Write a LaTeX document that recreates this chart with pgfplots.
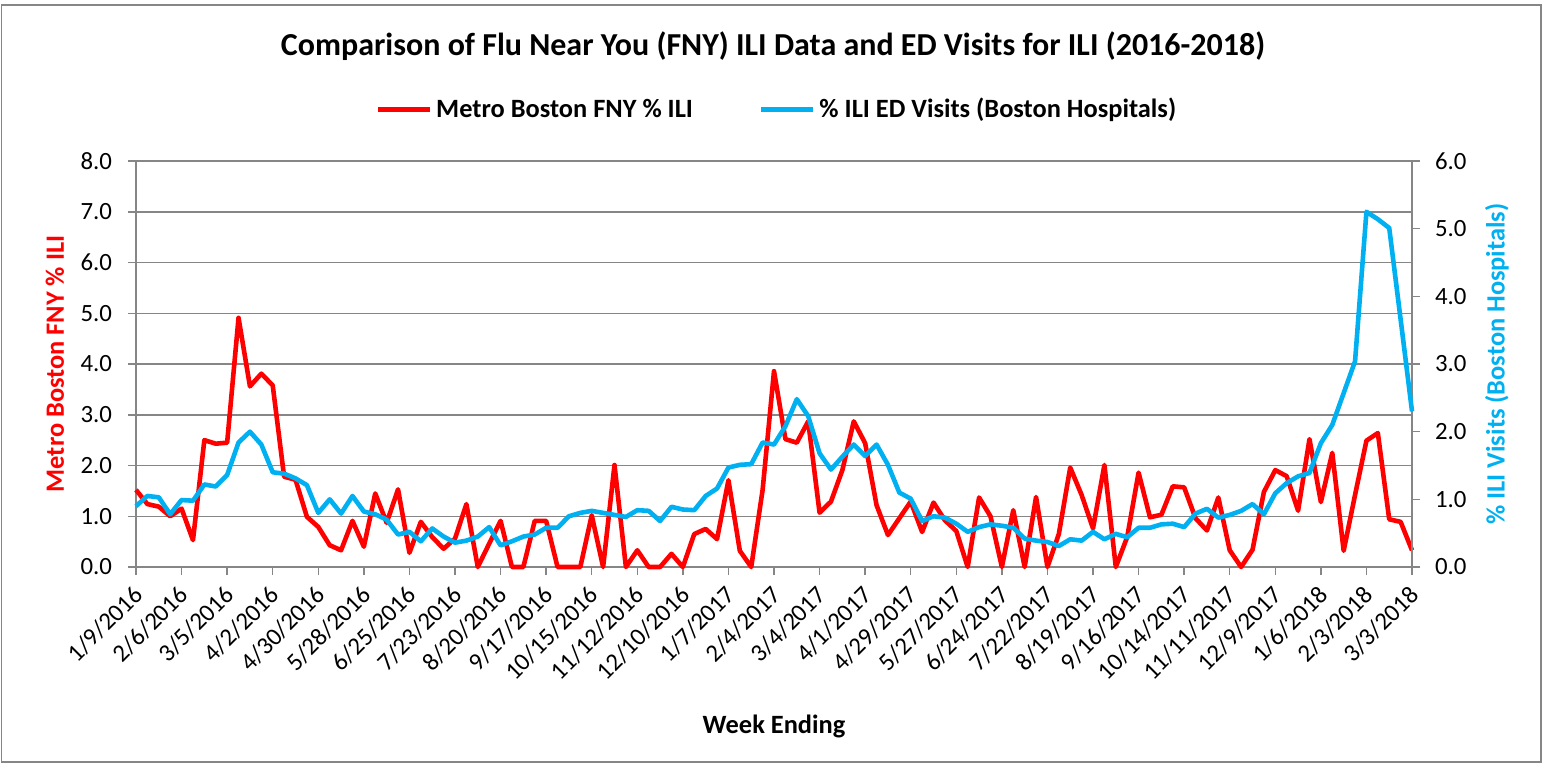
\documentclass[border=0pt]{standalone}
\usepackage{fontspec}
\setmainfont{Carlito}
\usepackage{pgfplots}
\pgfplotsset{compat=1.18}
\usepackage{pgfplotstable}
\definecolor{fnyred}{HTML}{FF0000}
\definecolor{edblue}{HTML}{00B0F0}
\definecolor{gridgray}{HTML}{868686}

\pgfplotstableread{
idx fny ed
0 1.52 0.90
1 1.24 1.05
2 1.19 1.03
3 1.00 0.78
4 1.15 0.99
5 0.53 0.98
6 2.50 1.22
7 2.43 1.19
8 2.45 1.36
9 4.91 1.84
10 3.56 2.00
11 3.81 1.81
12 3.58 1.40
13 1.78 1.38
14 1.72 1.31
15 0.99 1.21
16 0.79 0.80
17 0.43 1.00
18 0.33 0.79
19 0.91 1.05
20 0.40 0.82
21 1.45 0.78
22 0.87 0.70
23 1.53 0.48
24 0.28 0.52
25 0.89 0.38
26 0.59 0.57
27 0.36 0.45
28 0.56 0.36
29 1.24 0.39
30 0.00 0.45
31 0.46 0.59
32 0.91 0.32
33 0.00 0.38
34 0.00 0.45
35 0.91 0.48
36 0.91 0.58
37 0.00 0.58
38 0.00 0.75
39 0.00 0.80
40 1.02 0.83
41 0.00 0.80
42 2.01 0.77
43 0.00 0.74
44 0.33 0.84
45 0.00 0.83
46 0.00 0.68
47 0.26 0.89
48 0.00 0.85
49 0.65 0.84
50 0.75 1.05
51 0.55 1.16
52 1.71 1.47
53 0.32 1.51
54 0.00 1.52
55 1.52 1.84
56 3.86 1.81
57 2.52 2.08
58 2.45 2.48
59 2.87 2.23
60 1.07 1.68
61 1.29 1.44
62 1.91 1.63
63 2.87 1.81
64 2.44 1.64
65 1.22 1.81
66 0.63 1.51
67 0.96 1.10
68 1.29 1.01
69 0.69 0.68
70 1.27 0.75
71 0.92 0.73
72 0.71 0.64
73 0.00 0.52
74 1.37 0.59
75 1.00 0.63
76 0.00 0.61
77 1.12 0.58
78 0.00 0.42
79 1.38 0.39
80 0.00 0.37
81 0.65 0.31
82 1.96 0.41
83 1.42 0.39
84 0.76 0.52
85 2.01 0.41
86 0.00 0.49
87 0.59 0.44
88 1.86 0.58
89 0.98 0.58
90 1.03 0.63
91 1.59 0.64
92 1.57 0.59
93 0.96 0.79
94 0.72 0.86
95 1.37 0.73
96 0.33 0.77
97 0.00 0.83
98 0.34 0.93
99 1.48 0.78
100 1.91 1.09
101 1.79 1.24
102 1.11 1.34
103 2.52 1.39
104 1.28 1.83
105 2.25 2.10
106 0.32 2.57
107 1.42 3.04
108 2.49 5.25
109 2.64 5.14
110 0.94 5.01
111 0.89 3.66
112 0.33 2.30
}\datatable

\newcommand{\tickfont}{\fontsize{12.4}{14}\selectfont}
\newcommand{\labfont}{\bfseries\fontsize{13.2}{15}\selectfont}

\begin{document}
\begin{tikzpicture}
\path[use as bounding box] (0,0) rectangle (773pt,-383.5pt);
\draw[gridgray, line width=0.75pt] (0.75pt,-2.5pt) rectangle (770.5pt,-381pt);

\begin{axis}[
  at={(68pt,-283.5pt)}, anchor=south west,
  scale only axis, width=638pt, height=203pt,
  xmin=0, xmax=112, ymin=0, ymax=8,
  axis x line*=bottom, axis y line*=left,
  axis line style={gridgray, line width=0.75pt, -},
  xtick={0,4,...,112},
  xticklabels={1/9/2016,2/6/2016,3/5/2016,4/2/2016,4/30/2016,5/28/2016,6/25/2016,7/23/2016,8/20/2016,9/17/2016,10/15/2016,11/12/2016,12/10/2016,1/7/2017,2/4/2017,3/4/2017,4/1/2017,4/29/2017,5/27/2017,6/24/2017,7/22/2017,8/19/2017,9/16/2017,10/14/2017,11/11/2017,12/9/2017,1/6/2018,2/3/2018,3/3/2018},
  xticklabel style={yshift=-7pt, xshift=2pt, rotate=45, anchor=east, font=\tickfont, inner sep=1pt},
  ytick={0,1,...,8},
  ymajorgrids, grid style={gridgray, line width=0.75pt},
  tick style={gridgray, line width=0.75pt},
  tick align=outside, major tick length=4pt,
  yticklabel style={xshift=-4.5pt, font=\tickfont, /pgf/number format/.cd, fixed, fixed zerofill, precision=1},
  /pgf/number format/assume math mode=true,
  title={Comparison of Flu Near You (FNY) ILI Data and ED Visits for ILI (2016-2018)},
  title style={at={(axis description cs:0.4992,1.253)}, anchor=center, font=\bfseries\fontsize{16}{18}\selectfont},
  xlabel={Week Ending},
  xlabel style={at={(axis description cs:0.5,-0.392)}, anchor=center, font=\labfont},
  ylabel={Metro Boston FNY \% ILI},
  ylabel style={at={(axis description cs:-0.0635,0.5)}, anchor=center, font=\labfont, text=fnyred},
  clip=false,
]
\addplot[fnyred, line width=2.3pt, line join=round] table[x=idx,y=fny]{\datatable};
\end{axis}

\begin{axis}[
  at={(68pt,-283.5pt)}, anchor=south west,
  scale only axis, width=638pt, height=203pt,
  xmin=0, xmax=112, ymin=0, ymax=6,
  axis x line=none, axis y line*=right,
  axis line style={gridgray, line width=0.75pt, -},
  ytick={0,1,...,6},
  tick style={gridgray, line width=0.75pt},
  tick align=outside, major tick length=4pt,
  yticklabel style={xshift=4pt, font=\tickfont, /pgf/number format/.cd, fixed, fixed zerofill, precision=1},
  /pgf/number format/assume math mode=true,
  ylabel={\% ILI Visits (Boston Hospitals)},
  ylabel style={at={(axis description cs:1.0666,0.5)}, anchor=center, font=\labfont, text=edblue},
  legend image code/.code={\draw[#1] (0pt,0pt) -- (26pt,0pt);},
  legend style={draw=none, fill=none, at={(axis description cs:0.503,1.127)}, anchor=center,
    legend columns=2, font=\labfont, /tikz/every even column/.append style={column sep=31pt}},
  clip=false,
]
\addlegendimage{fnyred, line width=2.3pt}
\addlegendentry{Metro Boston FNY \% ILI}
\addplot[edblue, line width=2.3pt, line join=round] table[x=idx,y=ed]{\datatable};
\addlegendentry{\% ILI ED Visits (Boston Hospitals)}
\end{axis}
\end{tikzpicture}
\end{document}
